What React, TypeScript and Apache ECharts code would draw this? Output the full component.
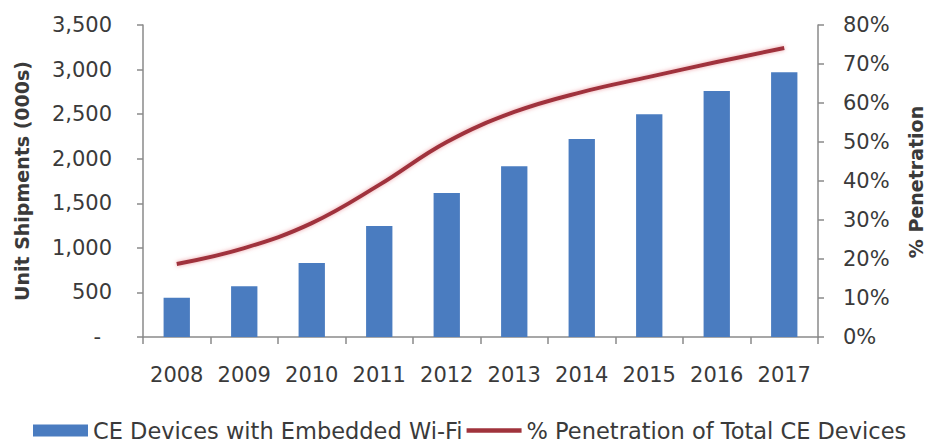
import React, { useEffect, useRef } from "react";
import * as echarts from "echarts";

const years = ["2008", "2009", "2010", "2011", "2012", "2013", "2014", "2015", "2016", "2017"];
const shipments = [440, 570, 830, 1245, 1615, 1915, 2220, 2500, 2760, 2970];
const penetration = [18.7, 22.8, 29.2, 39.0, 50.0, 57.7, 62.8, 66.7, 70.5, 74.1];
const barName = "CE Devices with Embedded Wi-Fi";
const lineName = "% Penetration of Total CE Devices";
const leftTitle = "Unit Shipments (000s)";
const rightTitle = "% Penetration";

const FONT = "DejaVu Sans";
const TXT = "#3a3a3a";
const AX = "#8a8a8a";

export default function App() {
  const ref = useRef<HTMLDivElement>(null);
  useEffect(() => {
    if (!ref.current) return;
    const chart = echarts.init(ref.current, undefined, { renderer: "svg" });
    chart.setOption({
      animation: false,
      textStyle: { fontFamily: FONT },
      grid: { left: 143, right: 112, top: 25, bottom: 106, containLabel: false },
      legend: {
        left: 28,
        top: 414,
        itemGap: 4,
        itemWidth: 55,
        itemHeight: 12,
        textStyle: { fontFamily: FONT, fontSize: 22.5, color: TXT },
        data: [
          { name: barName, icon: "rect" },
          { name: lineName, icon: "path://M0,0H60V5H0Z" },
        ],
      },
      graphic: [
        {
          type: "text",
          x: 22,
          y: 181,
          rotation: Math.PI / 2,
          style: {
            text: leftTitle,
            font: `bold 19px "${FONT}"`,
            fill: TXT,
            align: "center",
            verticalAlign: "middle",
          },
        },
        {
          type: "text",
          x: 916,
          y: 182,
          rotation: Math.PI / 2,
          style: {
            text: rightTitle,
            font: `bold 19px "${FONT}"`,
            fill: TXT,
            align: "center",
            verticalAlign: "middle",
          },
        },
      ],
      xAxis: {
        type: "category",
        data: years,
        axisLine: { lineStyle: { color: AX, width: 1.5 } },
        axisTick: { show: true, length: 7, alignWithLabel: false, interval: 0, lineStyle: { color: AX, width: 1.5 } },
        axisLabel: { color: TXT, fontSize: 21, margin: 27, fontFamily: FONT, interval: 0 },
      },
      yAxis: [
        {
          type: "value",
          min: 0,
          max: 3500,
          interval: 500,
          splitLine: { show: false },
          axisLine: { show: true, lineStyle: { color: AX, width: 1.5 } },
          axisTick: { show: true, length: 6, lineStyle: { color: AX, width: 1.5 } },
          axisLabel: {
            color: TXT,
            fontSize: 21,
            margin: 31,
            fontFamily: FONT,
            formatter: (v: number) => (v === 0 ? "- \u2009" : v.toLocaleString("en-US")),
          },
        },
        {
          type: "value",
          min: 0,
          max: 80,
          interval: 10,
          position: "right",
          splitLine: { show: false },
          axisLine: { show: true, lineStyle: { color: AX, width: 1.5 } },
          axisTick: { show: true, length: 6, lineStyle: { color: AX, width: 1.5 } },
          axisLabel: { color: TXT, fontSize: 21, margin: 25, fontFamily: FONT, formatter: "{value}%" },
        },
      ],
      series: [
        {
          name: barName,
          type: "bar",
          data: shipments,
          barWidth: "39%",
          itemStyle: { color: "#4a7cc0" },
        },
        {
          name: lineName,
          type: "line",
          yAxisIndex: 1,
          data: penetration,
          smooth: 0.4,
          symbol: "none",
          lineStyle: { color: "#a0333c", width: 4, shadowColor: "rgba(230,120,130,0.7)", shadowBlur: 4 },
          itemStyle: { color: "#a0333c" },
        },
      ],
    });
    return () => chart.dispose();
  }, []);
  return <div ref={ref} style={{ position: "absolute", left: 0, top: 0, width: 930, height: 443 }} />;
}
